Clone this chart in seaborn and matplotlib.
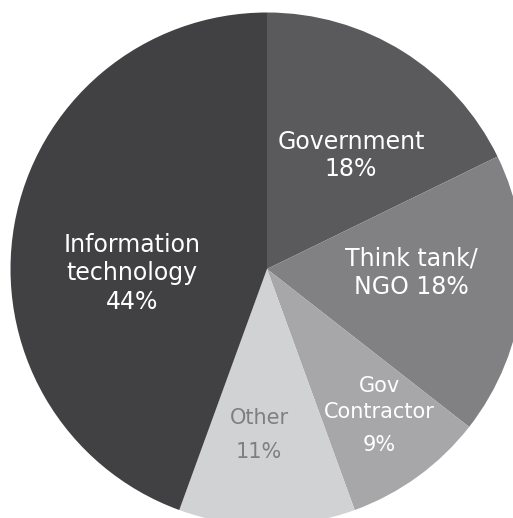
import matplotlib
matplotlib.use("Agg")
import matplotlib.pyplot as plt
import seaborn as sns

categories = ["Government", "Think tank/NGO", "Gov Contractor", "Other", "Information technology"]
counts = [8, 8, 4, 5, 20]
percent_labels = ["18%", "18%", "9%", "11%", "44%"]
colors = ["#5a5a5d", "#818184", "#a7a7aa", "#d1d2d4", "#414143"]

sns.set_theme(style="white")
plt.rcParams['font.family'] = ['DejaVu Sans']

W, H = 513, 518
fig = plt.figure(figsize=(W / 100, H / 100), dpi=100)
ax = fig.add_axes([0, 0, 1, 1])
cx, cy, R = 267, 269, 256.5

ax.pie(counts, colors=colors, startangle=90, counterclock=False, radius=1,
       wedgeprops=dict(linewidth=0))
ax.set_xlim(-cx / R, (W - cx) / R)
ax.set_ylim(-(H - cy) / R, cy / R)
ax.set_aspect('auto')
ax.axis('off')

def px(x, y):
    return (x - cx) / R, (cy - y) / R

labels = [
    ("Government", 351, 142, "white", 17),
    (percent_labels[0], 351, 169, "white", 17),
    ("Think tank/", 411, 258, "white", 17),
    ("NGO " + percent_labels[1], 411, 287, "white", 17),
    ("Gov", 379, 386, "white", 15),
    ("Contractor", 379, 412, "white", 15),
    (percent_labels[2], 379, 445, "white", 15),
    ("Other", 259, 418, "#7f7f82", 15),
    (percent_labels[3], 259, 452, "#7f7f82", 15),
    ("Information", 132, 245, "white", 17),
    ("technology", 132, 273, "white", 17),
    (percent_labels[4], 132, 302, "white", 17),
]
for t, x, y, c, fs in labels:
    X, Y = px(x, y)
    ax.text(X, Y, t, ha='center', va='center', color=c, fontsize=fs)

fig.savefig("out.png", dpi=100)
